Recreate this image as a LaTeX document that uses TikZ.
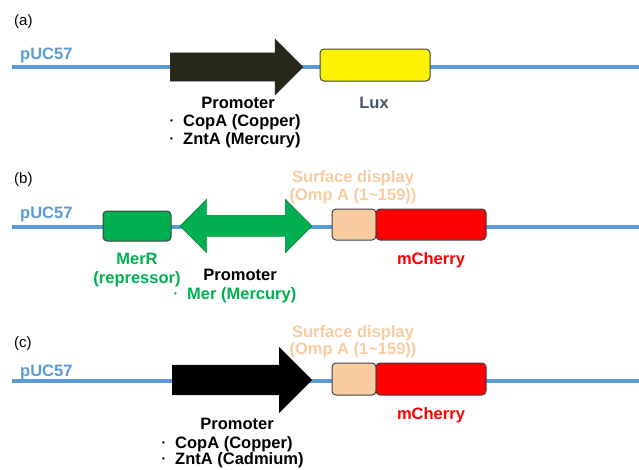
\documentclass[tikz,border=0pt]{standalone}
\usepackage{fontspec}
\setmainfont{Liberation Sans}
\usetikzlibrary{shapes.arrows, positioning}

\definecolor{pucblue}{HTML}{5B9BD5}
\definecolor{luxblue}{HTML}{44546A}
\definecolor{oliveblack}{HTML}{262619}
\definecolor{mergreen}{HTML}{00B050}
\definecolor{omppeach}{HTML}{F8CBA0}
\definecolor{cherryred}{HTML}{FF0000}

\newcommand{\bull}{\makebox[13pt][l]{\raisebox{2.5pt}{\fontsize{8}{8}\selectfont\textbullet}}}

\tikzset{
    backbone/.style={draw=pucblue, line width=3.5pt},
    tag/.style={font=\fontsize{15}{17}\selectfont, inner sep=0pt, anchor=base west},
    lbl/.style={font=\bfseries\fontsize{16.5}{19}\selectfont, inner sep=0pt, anchor=base},
    item/.style={lbl, anchor=base west},
    gene/.style={draw=black!75, line width=1pt, rounded corners=4pt, inner sep=0pt, minimum height=31pt},
    promoter/.style={single arrow, single arrow head extend=14pt, inner xsep=0pt, inner ysep=14pt, anchor=tail},
    bidir/.style={double arrow, double arrow head extend=16pt, inner xsep=0pt, inner ysep=10.5pt}
}

\begin{document}
\begin{tikzpicture}[x=1pt, y=-1pt]
    \useasboundingbox (0,0) rectangle (639,469);

    % (a) metal promoter driving lux
    \coordinate (a-start) at (12,67);
    \coordinate (a-end) at (639,67);
    \draw [backbone] (a-start) -- (a-end);
    \node (a-tag) [tag] at (14,25) {(a)};
    \node (a-puc) [lbl, anchor=base west, text=pucblue] at (20,59) {pUC57};
    \node (a-prom) [promoter, fill=oliveblack, draw=black!80, minimum height=133pt] at (170,67) {};
    \node (a-lux) [gene, fill=yellow, minimum width=110pt, minimum height=32pt] at (375,65) {};
    \node (a-promlbl) [lbl] at (238,108) {Promoter};
    \node (a-cop) [item] at (170,126) {\bull CopA (Copper)};
    \node (a-znt) [item] at (170,144) {\bull ZntA (Mercury)};
    \node (a-luxlbl) [lbl, text=luxblue] at (374,108) {Lux};

    % (b) MerR with the bidirectional mer promoter
    \coordinate (b-start) at (12,227);
    \coordinate (b-end) at (639,227);
    \draw [backbone] (b-start) -- (b-end);
    \node (b-tag) [tag] at (14,183) {(b)};
    \node (b-puc) [lbl, anchor=base west, text=pucblue] at (20,218) {pUC57};
    \node (b-merr) [gene, fill=mergreen, minimum width=68pt, minimum height=30pt] at (137,226) {};
    \node (b-prom) [bidir, fill=mergreen, draw=mergreen!70!black, minimum height=132pt] at (246,226) {};
    \node (b-omp) [gene, fill=omppeach, minimum width=44pt] at (354,224.5) {};
    \node (b-cherry) [gene, fill=cherryred, minimum width=110pt] at (431,224.5) {};
    \node (b-surf) [lbl, text=omppeach] at (353,182) {Surface display};
    \node (b-ompa) [lbl, text=omppeach] at (353,200) {(Omp A (1\textasciitilde159))};
    \node (b-merrlbl) [lbl, text=mergreen] at (137,264) {MerR};
    \node (b-repr) [lbl, text=mergreen] at (137,283) {(repressor)};
    \node (b-promlbl) [lbl] at (240,280) {Promoter};
    \node (b-mer) [item, text=mergreen] at (174,299) {\bull Mer (Mercury)};
    \node (b-cherrylbl) [lbl, text=cherryred] at (431,264) {mCherry};

    % (c) metal promoter driving displayed mCherry
    \coordinate (c-start) at (12,381);
    \coordinate (c-end) at (639,381);
    \draw [backbone] (c-start) -- (c-end);
    \node (c-tag) [tag] at (14,347) {(c)};
    \node (c-puc) [lbl, anchor=base west, text=pucblue] at (20,376) {pUC57};
    \node (c-prom) [promoter, fill=black, single arrow head extend=18pt, inner ysep=15pt, minimum height=140pt] at (172,380) {};
    \node (c-omp) [gene, fill=omppeach, minimum width=44pt, minimum height=32pt] at (354,379) {};
    \node (c-cherry) [gene, fill=cherryred, minimum width=110pt, minimum height=32pt] at (431,379) {};
    \node (c-surf) [lbl, text=omppeach] at (353,337) {Surface display};
    \node (c-ompa) [lbl, text=omppeach] at (353,354) {(Omp A (1\textasciitilde159))};
    \node (c-cherrylbl) [lbl, text=cherryred] at (431,419) {mCherry};
    \node (c-promlbl) [lbl] at (237,429) {Promoter};
    \node (c-cop) [item] at (162,448) {\bull CopA (Copper)};
    \node (c-znt) [item] at (162,464) {\bull ZntA (Cadmium)};
\end{tikzpicture}
\end{document}
